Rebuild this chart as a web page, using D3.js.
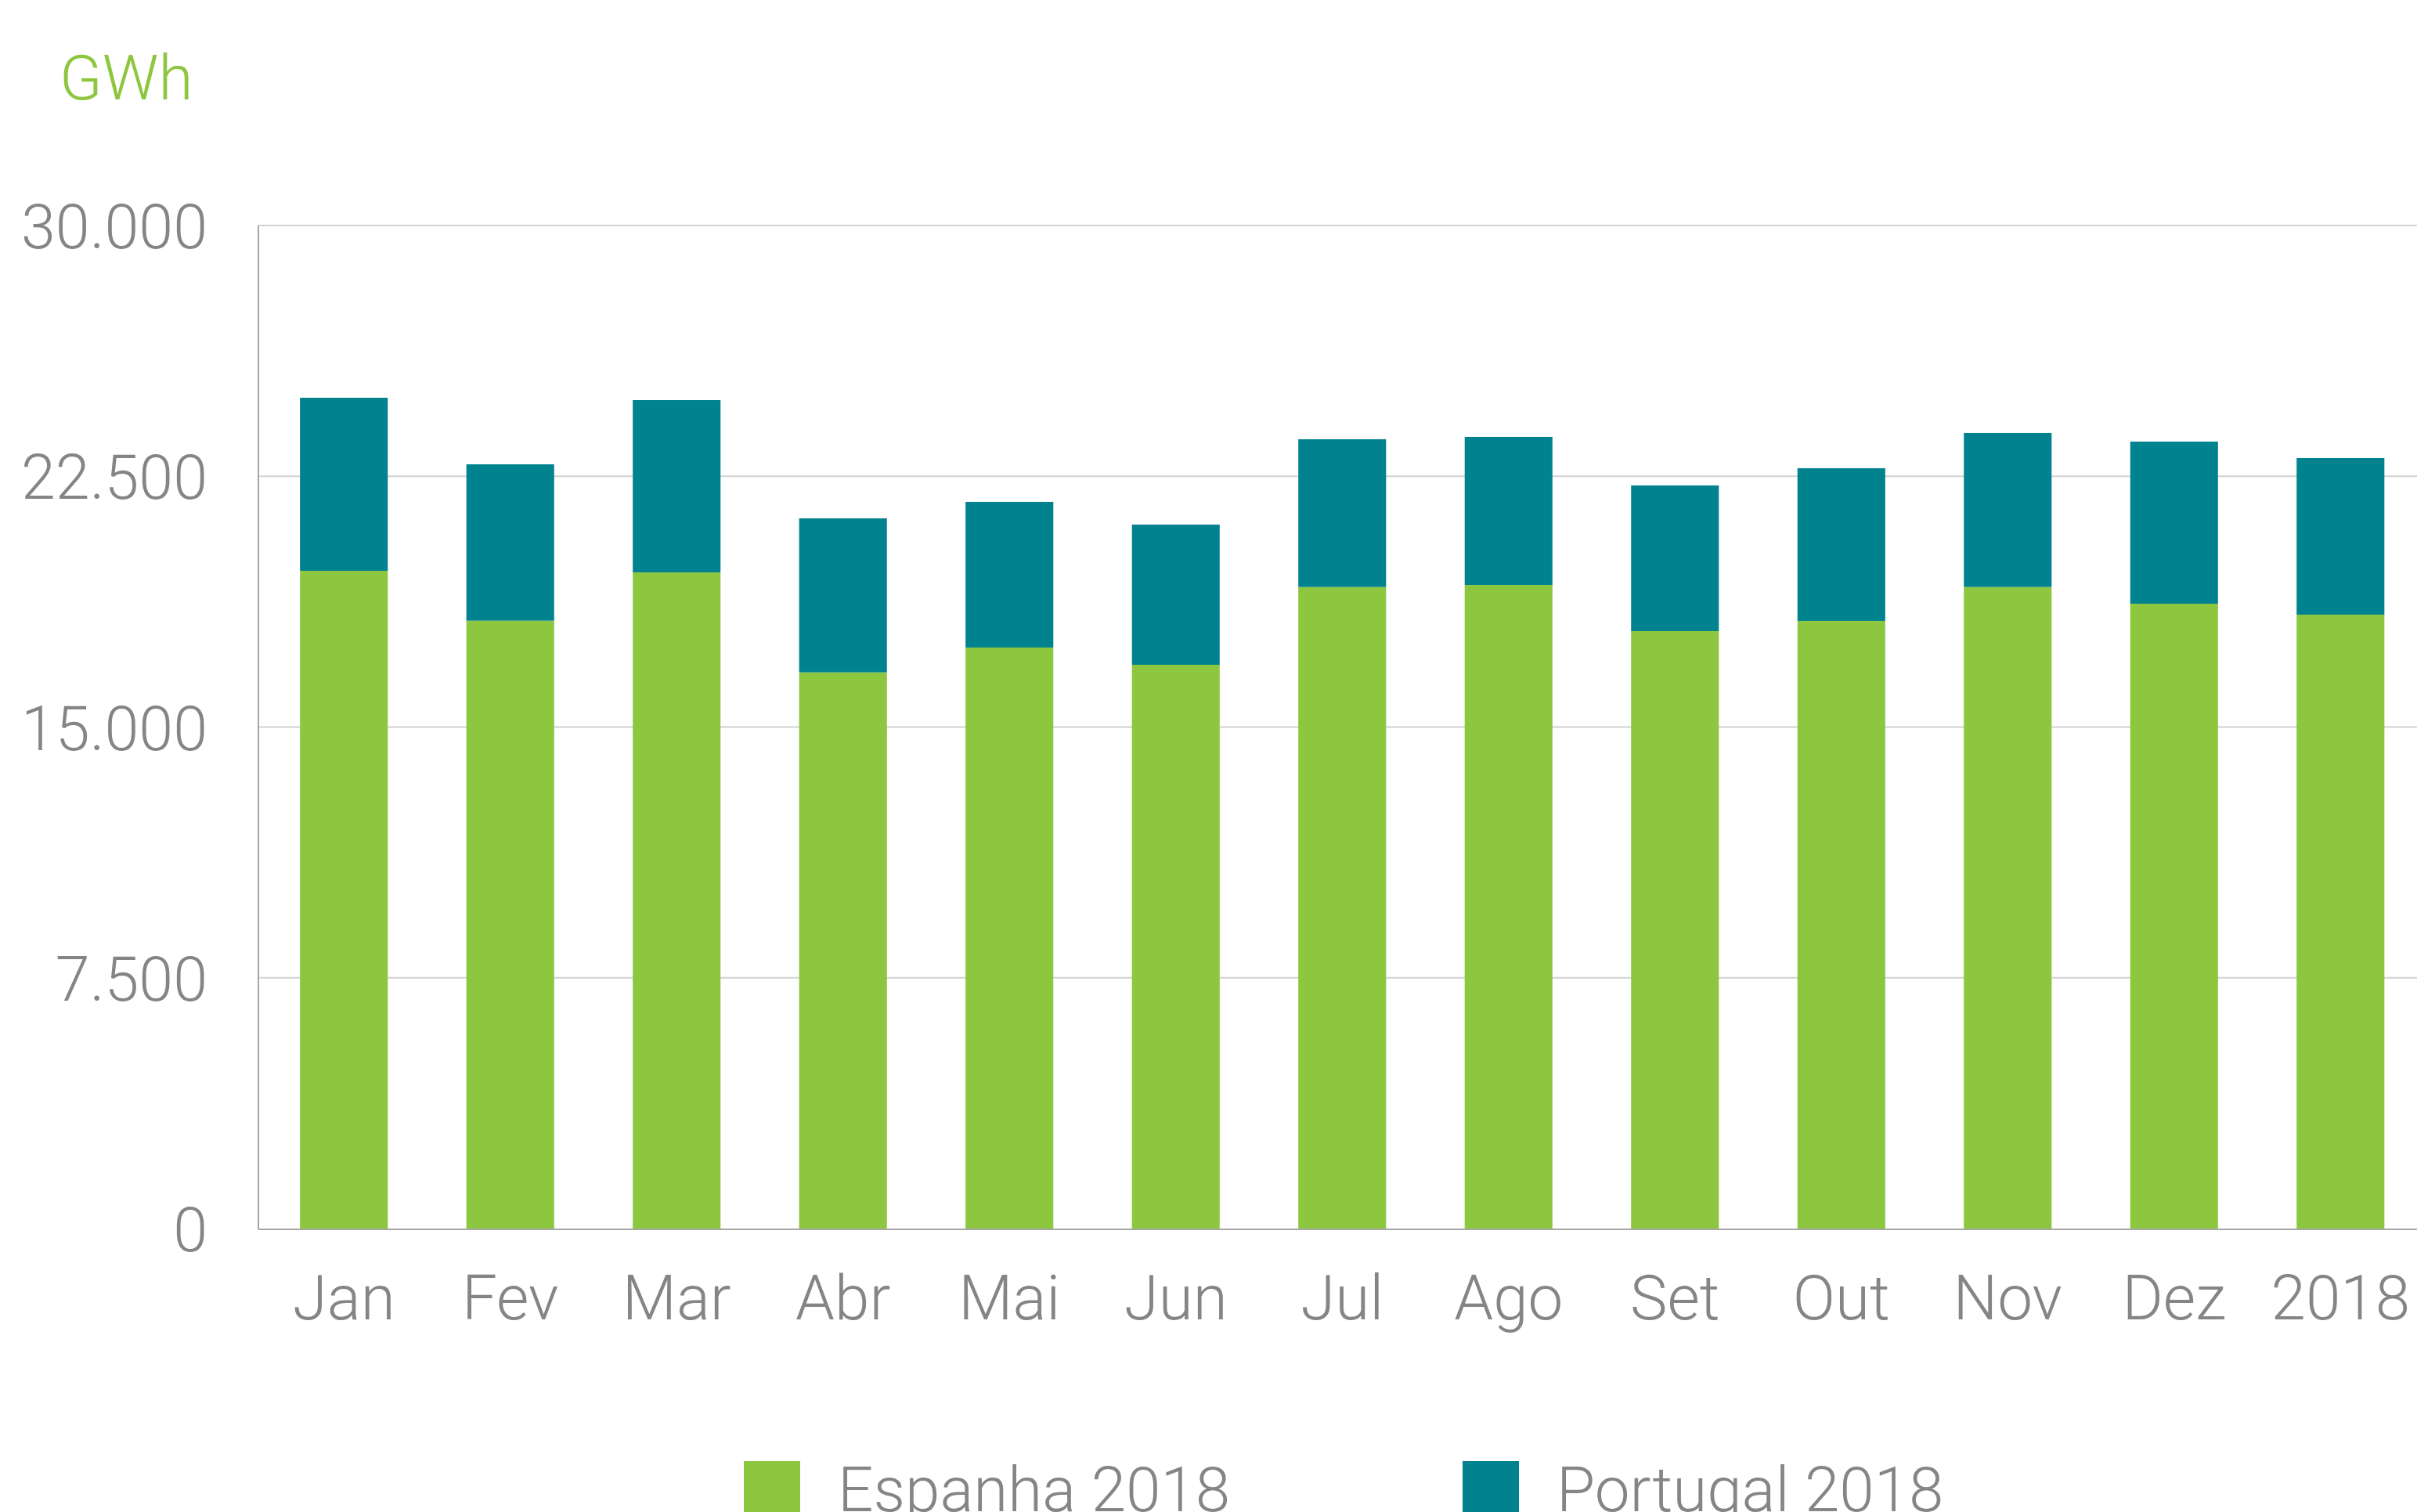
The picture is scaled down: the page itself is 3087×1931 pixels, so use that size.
<!DOCTYPE html>
<html><head><meta charset="utf-8">
<script src="https://cdn.jsdelivr.net/npm/d3@7"></script>
<style>
html,body{margin:0;padding:0;background:#fff;overflow:hidden}
text{font-family:Roboto,"Noto Sans",sans-serif;font-weight:300}
</style></head>
<body><svg id="c" width="3087" height="1931"></svg>
<script>
const categories = ["Jan","Fev","Mar","Abr","Mai","Jun","Jul","Ago","Set","Out","Nov","Dez","2018"];
const espanha = [19673,18181,19626,16635,17378,16862,19188,19251,17869,18174,19188,18689,18361];
const portugal = [5176,4677,5152,4607,4356,4193,4419,4427,4357,4567,4607,4848,4684];
const yTicks = [0,7500,15000,22500,30000];
const seriesNames = ["Espanha 2018","Portugal 2018"];
const colors = ["#8dc63f","#00838f"];

(function(){
const svg = d3.select("#c");
const W = 3087;
const pL = 330, pT = 288, pB = 1569;
const bandStart = 333, bandEnd = 3095.5;

const x = d3.scaleBand().domain(categories).range([bandStart, bandEnd]).paddingInner(0.4725).paddingOuter(0.236);
const y = d3.scaleLinear().domain([0,30000]).range([pB, pT]);
const fmt = v => d3.format(",")(v).replace(/,/g,".");

// gridlines
svg.append("g").selectAll("line").data(yTicks.filter(d=>d>0)).join("line")
  .attr("x1", pL).attr("x2", W).attr("y1", d=>y(d)).attr("y2", d=>y(d))
  .attr("stroke","#d2d2d2").attr("stroke-width",2);

// y labels
svg.append("g").selectAll("text").data(yTicks).join("text")
  .attr("x", 265).attr("y", d=>y(d)+29).attr("text-anchor","end")
  .attr("font-size",79).attr("fill","#858585").text(fmt);

// stacked data
const data = categories.map((c,i)=>({cat:c, esp:espanha[i], por:portugal[i]}));
const stack = d3.stack().keys(["esp","por"])(data);

svg.append("g").selectAll("g").data(stack).join("g")
  .attr("fill",(d,i)=>colors[i])
  .selectAll("rect").data(d=>d).join("rect")
  .attr("x", d=>x(d.data.cat)).attr("width", x.bandwidth())
  .attr("y", d=>y(d[1])).attr("height", d=>y(d[0])-y(d[1]));

// axes lines
svg.append("line").attr("x1",pL).attr("x2",pL).attr("y1",pT).attr("y2",pB+1)
  .attr("stroke","#a6a6a6").attr("stroke-width",2);
svg.append("line").attr("x1",pL).attr("x2",W).attr("y1",pB+1).attr("y2",pB+1)
  .attr("stroke","#a6a6a6").attr("stroke-width",2);

// x labels
svg.append("g").selectAll("text").data(categories).join("text")
  .attr("x", d=>x(d)+x.bandwidth()/2).attr("y",1685).attr("text-anchor","middle")
  .attr("font-size",80).attr("fill","#858585").text(d=>d);

// unit label
svg.append("text").attr("x",76).attr("y",127).attr("font-size",80).attr("fill","#8dc63f").text("GWh");

// legend
const legX = [950, 1868];
const lg = svg.append("g").selectAll("g").data(seriesNames).join("g")
  .attr("transform",(d,i)=>`translate(${legX[i]},0)`);
lg.append("rect").attr("x",0).attr("y",1866).attr("width",72).attr("height",80).attr("fill",(d,i)=>colors[i]);
lg.append("text").attr("x",120).attr("y",1930).attr("font-size",80).attr("fill","#858585").text(d=>d);
})();
</script></body></html>
